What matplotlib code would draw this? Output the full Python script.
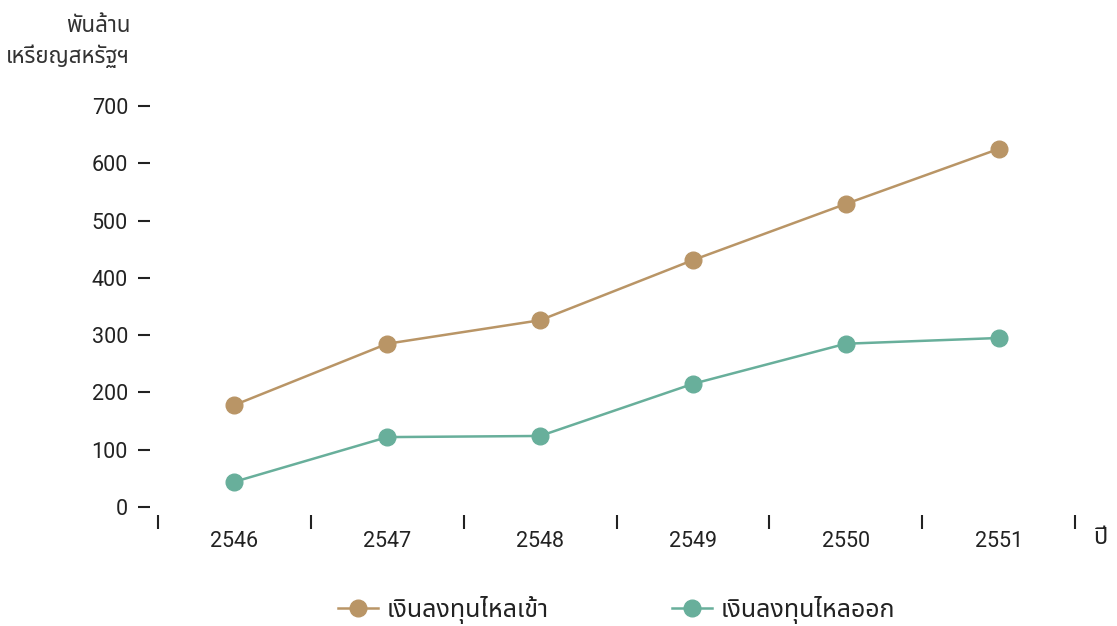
import numpy as np
import matplotlib.pyplot as plt
from matplotlib.ticker import FixedLocator, NullFormatter

plt.rcParams['font.family'] = ['Roboto', 'Noto Sans Thai', 'Noto Sans', 'DejaVu Sans']

years = ['2546', '2547', '2548', '2549', '2550', '2551']
inflow = [178, 285, 326, 431, 529, 625]
outflow = [44, 122, 124, 215, 285, 295]
series_names = ['เงินลงทุนไหลเข้า', 'เงินลงทุนไหลออก']
colors = ['#b99566', '#68af9b']


def main():
    fig = plt.figure(figsize=(11.17, 6.26), dpi=100)
    ax = fig.add_axes([0.1415, 0.1901, 0.8209, 0.6406])

    x = np.arange(len(years))
    for vals, name, c in zip([inflow, outflow], series_names, colors):
        ax.plot(x, vals, color=c, lw=1.8, marker='o', markersize=12,
                label=name, clip_on=False)

    ax.set_xlim(-0.5, len(years) - 0.5)
    ax.set_ylim(0, 700)
    ax.set_yticks(range(0, 701, 100))

    # tick marks between years, labels centred under each year
    ax.xaxis.set_major_locator(FixedLocator(np.arange(-0.5, len(years), 1)))
    ax.xaxis.set_major_formatter(NullFormatter())
    ax.set_xticks(x, minor=True)
    ax.set_xticklabels(years, minor=True)

    for s in ax.spines.values():
        s.set_visible(False)
    ax.spines['left'].set_position(('outward', 6))
    ax.spines['bottom'].set_position(('outward', 6))

    ax.tick_params(axis='y', length=8.6, width=1.5, color='#222222', pad=7,
                   labelsize=15.5, labelcolor='#222222')
    ax.tick_params(axis='x', which='major', length=10, width=1.5, color='#222222')
    ax.tick_params(axis='x', which='minor', length=0, pad=11,
                   labelsize=15.5, labelcolor='#222222')

    fig.text(0.1165, 0.975, 'พันล้าน\nเหรียญสหรัฐฯ', ha='right', va='top',
             fontsize=16, color='#333333', linespacing=1.45)
    fig.text(0.979, 0.141, 'ปี', ha='left', va='center', fontsize=17, color='#222222')

    ax.legend(loc='center', bbox_to_anchor=(0.5, -0.257), ncol=2, frameon=False,
              fontsize=18, columnspacing=4.9, handlelength=1.6,
              handletextpad=0.35, labelcolor='#222222')

    fig.savefig('out.png', dpi=100)


if __name__ == '__main__':
    main()
